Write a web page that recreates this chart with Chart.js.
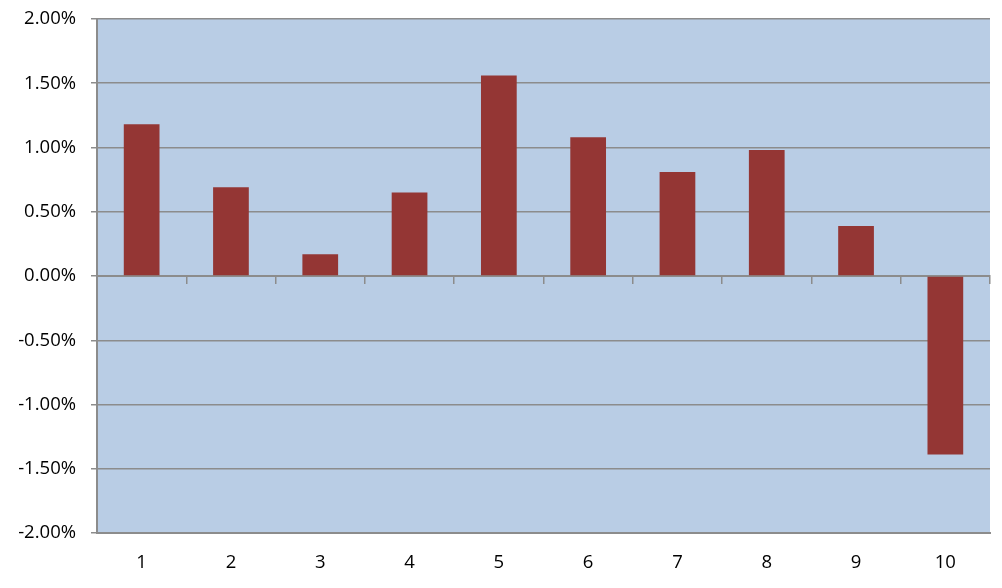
<!DOCTYPE html>
<html>
<head>
<meta charset="utf-8">
<script src="https://cdn.jsdelivr.net/npm/chart.js@4"></script>
<style>
html,body{margin:0;padding:0;background:#fff;}
#wrap{width:1002px;height:588px;}
</style>
</head>
<body>
<div id="wrap"><canvas id="c" width="1002" height="588"></canvas></div>
<script>
const categories = ['1','2','3','4','5','6','7','8','9','10'];
const values = [0.0118, 0.0069, 0.0017, 0.0065, 0.0156, 0.0108, 0.0081, 0.0098, 0.0039, -0.0139];
const yTicks = [-0.02, -0.015, -0.01, -0.005, 0, 0.005, 0.01, 0.015, 0.02];

const plotBg = {
  id: 'plotBg',
  beforeDraw(chart) {
    const {ctx, chartArea: a} = chart;
    ctx.save();
    ctx.fillStyle = '#B9CDE5';
    ctx.fillRect(a.left, a.top, a.right - a.left, a.bottom - a.top);
    ctx.restore();
  }
};

const font = {family: '"Open Sans", "Liberation Sans", sans-serif', size: 18.5};

new Chart(document.getElementById('c'), {
  type: 'bar',
  data: {
    labels: categories,
    datasets: [{
      data: values,
      backgroundColor: '#943634',
      borderWidth: 0,
      categoryPercentage: 1,
      barPercentage: 0.4,
      xAxisID: 'x'
    }]
  },
  options: {
    responsive: false,
    animation: false,
    devicePixelRatio: 1,
    layout: {padding: {top: 19, right: 12, left: 0, bottom: 0}},
    plugins: {legend: {display: false}, tooltip: {enabled: false}},
    scales: {
      x: {
        type: 'category',
        position: 'bottom',
        grid: {display: false},
        border: {display: true, color: '#8c8c8c', width: 2},
        ticks: {color: '#000', font: font, padding: 11, maxRotation: 0},
        afterFit(s) { s.height = 55; s.paddingLeft = 0; s.paddingRight = 0; }
      },
      x2: {
        type: 'category',
        labels: categories,
        position: {y: 0},
        grid: {display: true, offset: true, drawOnChartArea: false, drawTicks: true, tickLength: 7, color: '#8c8c8c', lineWidth: 1.5},
        border: {display: true, color: '#8c8c8c', width: 2},
        ticks: {display: false},
        afterFit(s) { s.paddingLeft = 0; s.paddingRight = 0; s.paddingTop = 0; s.paddingBottom = 0; }
      },
      y: {
        min: -0.02,
        max: 0.02,
        afterBuildTicks(s) { s.ticks = yTicks.map(v => ({value: v})); },
        grid: {color: '#8c8c8c', lineWidth: 1.5, tickLength: 6},
        border: {display: true, color: '#8c8c8c', width: 2},
        ticks: {
          color: '#000', font: font, padding: 15,
          callback: v => (v * 100).toFixed(2) + '%'
        },
        afterFit(s) { s.width = 97; s.paddingTop = 0; s.paddingBottom = 0; }
      }
    }
  },
  plugins: [plotBg]
});
</script>
</body>
</html>
